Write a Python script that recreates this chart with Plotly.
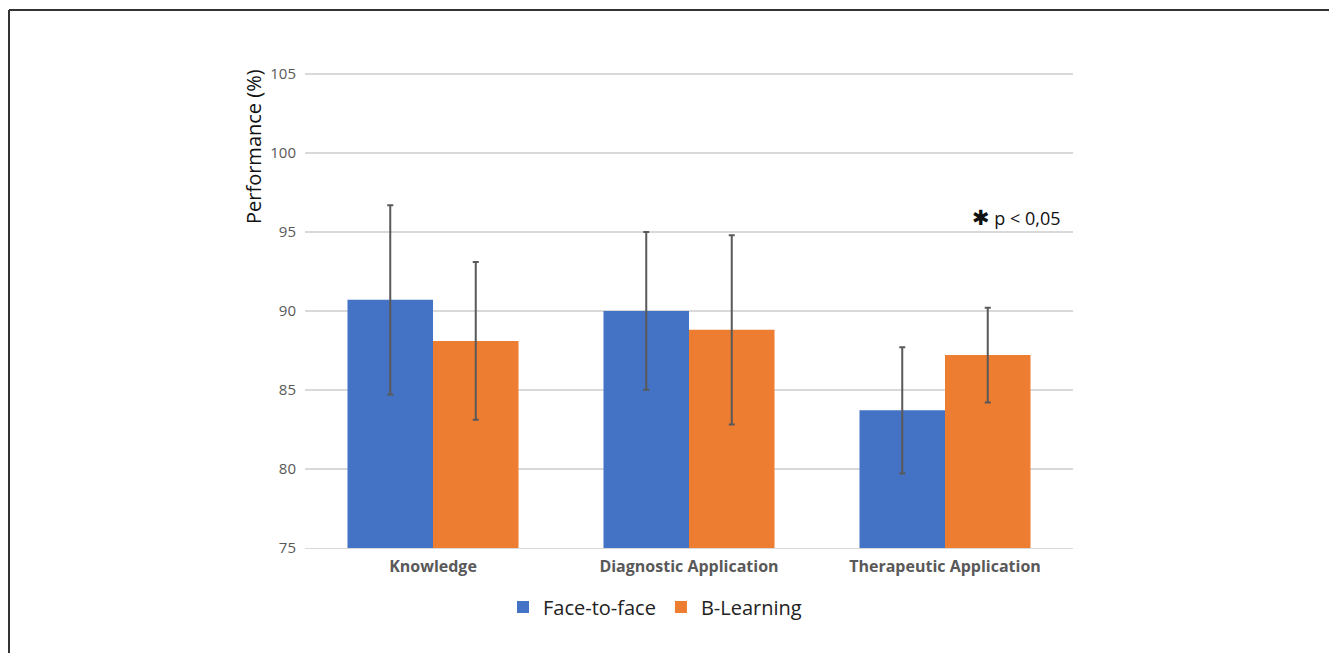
import plotly.graph_objects as go

categories = ["Knowledge", "Diagnostic Application", "Therapeutic Application"]
face_to_face = [90.7, 90.0, 83.7]
face_to_face_sd = [6.0, 5.0, 4.0]
b_learning = [88.1, 88.8, 87.2]
b_learning_sd = [5.0, 6.0, 3.0]
y_ticks = [75, 80, 85, 90, 95, 100, 105]

W, H = 1329, 653
L, R, T, B = 305, 256, 71, 105
plot_w = W - L - R
plot_h = H - T - B

def px_x(px):
    return (px - L) / plot_w

def px_y(py):
    return (H - B - py) / plot_h

err_style = dict(type="data", color="#595959", thickness=2, width=3, visible=True)

fig = go.Figure()
fig.add_trace(go.Bar(
    name="Face-to-face", x=categories, y=face_to_face,
    marker=dict(color="#4472C4", line=dict(width=0)),
    error_y=dict(array=face_to_face_sd, **err_style),
))
fig.add_trace(go.Bar(
    name="B-Learning", x=categories, y=b_learning,
    marker=dict(color="#ED7D31", line=dict(width=0)),
    error_y=dict(array=b_learning_sd, **err_style),
))

fig.update_layout(
    width=W, height=H,
    margin=dict(l=L, r=R, t=T, b=B),
    paper_bgcolor="white", plot_bgcolor="white",
    barmode="group", bargap=0.332, bargroupgap=0,
    font=dict(family="Open Sans, DejaVu Sans, sans-serif", color="#595959"),
    showlegend=True,
    legend=dict(
        orientation="h", x=px_x(503), y=px_y(607),
        xanchor="left", yanchor="middle",
        font=dict(size=20, color="#222222", family="Open Sans, sans-serif"),
        itemwidth=30, traceorder="normal", tracegroupgap=0,
    ),
    xaxis=dict(
        showgrid=False, showline=True, linecolor="#d9d9d9", linewidth=1,
        tickfont=dict(size=16, color="#595959", family="Open Sans, sans-serif", weight="bold"),
        ticks="", ticklabelstandoff=4,
    ),
    yaxis=dict(
        range=[74.98, 105.2], tickvals=y_ticks, showgrid=True,
        gridcolor="#d9d9d9", gridwidth=1.5, zeroline=False, showline=False,
        tickfont=dict(size=15, color="#595959", family="Open Sans, sans-serif"),
        ticks="", ticklabelstandoff=8,
    ),
)

# axis title, set high along the left side
fig.add_annotation(
    xref="paper", yref="paper", x=px_x(253), y=px_y(147),
    text="Performance (%)", textangle=-90, showarrow=False,
    xanchor="center", yanchor="middle",
    font=dict(size=20, color="#111111", family="Open Sans, sans-serif"),
)

fig.add_annotation(
    xref="paper", yref="y", x=px_x(1062), y=95.95,
    text="<span style='font-size:21px'>✱</span> p &lt; 0,05",
    showarrow=False, xanchor="right", yanchor="middle",
    font=dict(size=18, color="#111111", family="Open Sans, DejaVu Sans, sans-serif"),
)

# frame lines along the top and left edges of the page
fig.add_shape(type="line", xref="paper", yref="paper",
              x0=px_x(9), x1=px_x(W + 5), y0=px_y(10), y1=px_y(10),
              line=dict(color="#333333", width=2))
fig.add_shape(type="line", xref="paper", yref="paper",
              x0=px_x(9), x1=px_x(9), y0=px_y(10), y1=px_y(H + 5),
              line=dict(color="#333333", width=2))

fig.write_html("out.html")
